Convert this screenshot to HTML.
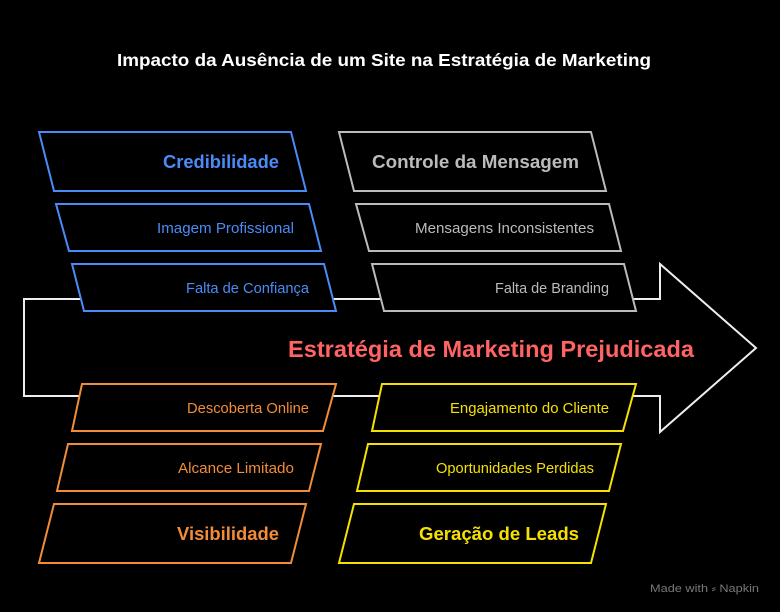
<!DOCTYPE html>
<html><head><meta charset="utf-8"><style>
html,body{margin:0;padding:0;background:#000;}
svg{display:block;}
text{font-family:"Liberation Sans",sans-serif;}
</style></head><body>
<svg width="780" height="612" viewBox="0 0 780 612" xmlns="http://www.w3.org/2000/svg">
<rect width="780" height="612" fill="#000"/>
<text x="384" y="66" fill="#fff" font-size="17.5" font-weight="bold" text-anchor="middle" textLength="534" lengthAdjust="spacingAndGlyphs">Impacto da Ausência de um Site na Estratégia de Marketing</text>
<path d="M24,299 H660 V264 L756,348 L660,432 V396 H24 Z" fill="none" stroke="#eee" stroke-width="2"/>
<g fill="#000" stroke-width="2" stroke-linejoin="miter">
<polygon points="39,132 291,132 306,191 54,191" stroke="#4a8cf7"/>
<polygon points="56,204 309,204 321,251 69,251" stroke="#4a8cf7"/>
<polygon points="72,264 324,264 336,311 84,311" stroke="#4a8cf7"/>
<polygon points="339,132 591,132 606,191 354,191" stroke="#bbb"/>
<polygon points="356,204 609,204 621,251 369,251" stroke="#bbb"/>
<polygon points="372,264 624,264 636,311 384,311" stroke="#bbb"/>
<polygon points="82,384 336,384 323,431 72,431" stroke="#f28c38"/>
<polygon points="68,444 321,444 309,491 57,491" stroke="#f28c38"/>
<polygon points="54,504 306,504 291,563 39,563" stroke="#f28c38"/>
<polygon points="382,384 636,384 623,431 372,431" stroke="#f5e000"/>
<polygon points="368,444 621,444 609,491 357,491" stroke="#f5e000"/>
<polygon points="354,504 606,504 591,563 339,563" stroke="#f5e000"/>
</g>
<g text-anchor="end" lengthAdjust="spacingAndGlyphs">
<text x="279" y="168" fill="#4a8cf7" font-size="18" font-weight="bold" textLength="116" lengthAdjust="spacingAndGlyphs">Credibilidade</text>
<text x="294" y="233" fill="#4a8cf7" font-size="14.5" textLength="137" lengthAdjust="spacingAndGlyphs">Imagem Profissional</text>
<text x="309" y="293" fill="#4a8cf7" font-size="14.5" textLength="123" lengthAdjust="spacingAndGlyphs">Falta de Confiança</text>
<text x="579" y="168" fill="#bbb" font-size="18" font-weight="bold" textLength="207" lengthAdjust="spacingAndGlyphs">Controle da Mensagem</text>
<text x="594" y="233" fill="#bbb" font-size="14.5" textLength="179" lengthAdjust="spacingAndGlyphs">Mensagens Inconsistentes</text>
<text x="609" y="293" fill="#bbb" font-size="14.5" textLength="114" lengthAdjust="spacingAndGlyphs">Falta de Branding</text>
<text x="309" y="413" fill="#f28c38" font-size="14.5" textLength="122" lengthAdjust="spacingAndGlyphs">Descoberta Online</text>
<text x="294" y="473" fill="#f28c38" font-size="14.5" textLength="116" lengthAdjust="spacingAndGlyphs">Alcance Limitado</text>
<text x="279" y="540" fill="#f28c38" font-size="18" font-weight="bold" textLength="102" lengthAdjust="spacingAndGlyphs">Visibilidade</text>
<text x="609" y="413" fill="#f5e000" font-size="14.5" textLength="159" lengthAdjust="spacingAndGlyphs">Engajamento do Cliente</text>
<text x="594" y="473" fill="#f5e000" font-size="14.5" textLength="158" lengthAdjust="spacingAndGlyphs">Oportunidades Perdidas</text>
<text x="579" y="540" fill="#f5e000" font-size="18" font-weight="bold" textLength="160" lengthAdjust="spacingAndGlyphs">Geração de Leads</text>
</g>
<text x="491" y="357" fill="#ff6363" font-size="23" font-weight="bold" text-anchor="middle" textLength="406" lengthAdjust="spacingAndGlyphs">Estratégia de Marketing Prejudicada</text>
<text x="759" y="592" fill="#777" font-size="11" text-anchor="end" textLength="109" lengthAdjust="spacingAndGlyphs">Made with ⸗ Napkin</text>
</svg>
</body></html>
